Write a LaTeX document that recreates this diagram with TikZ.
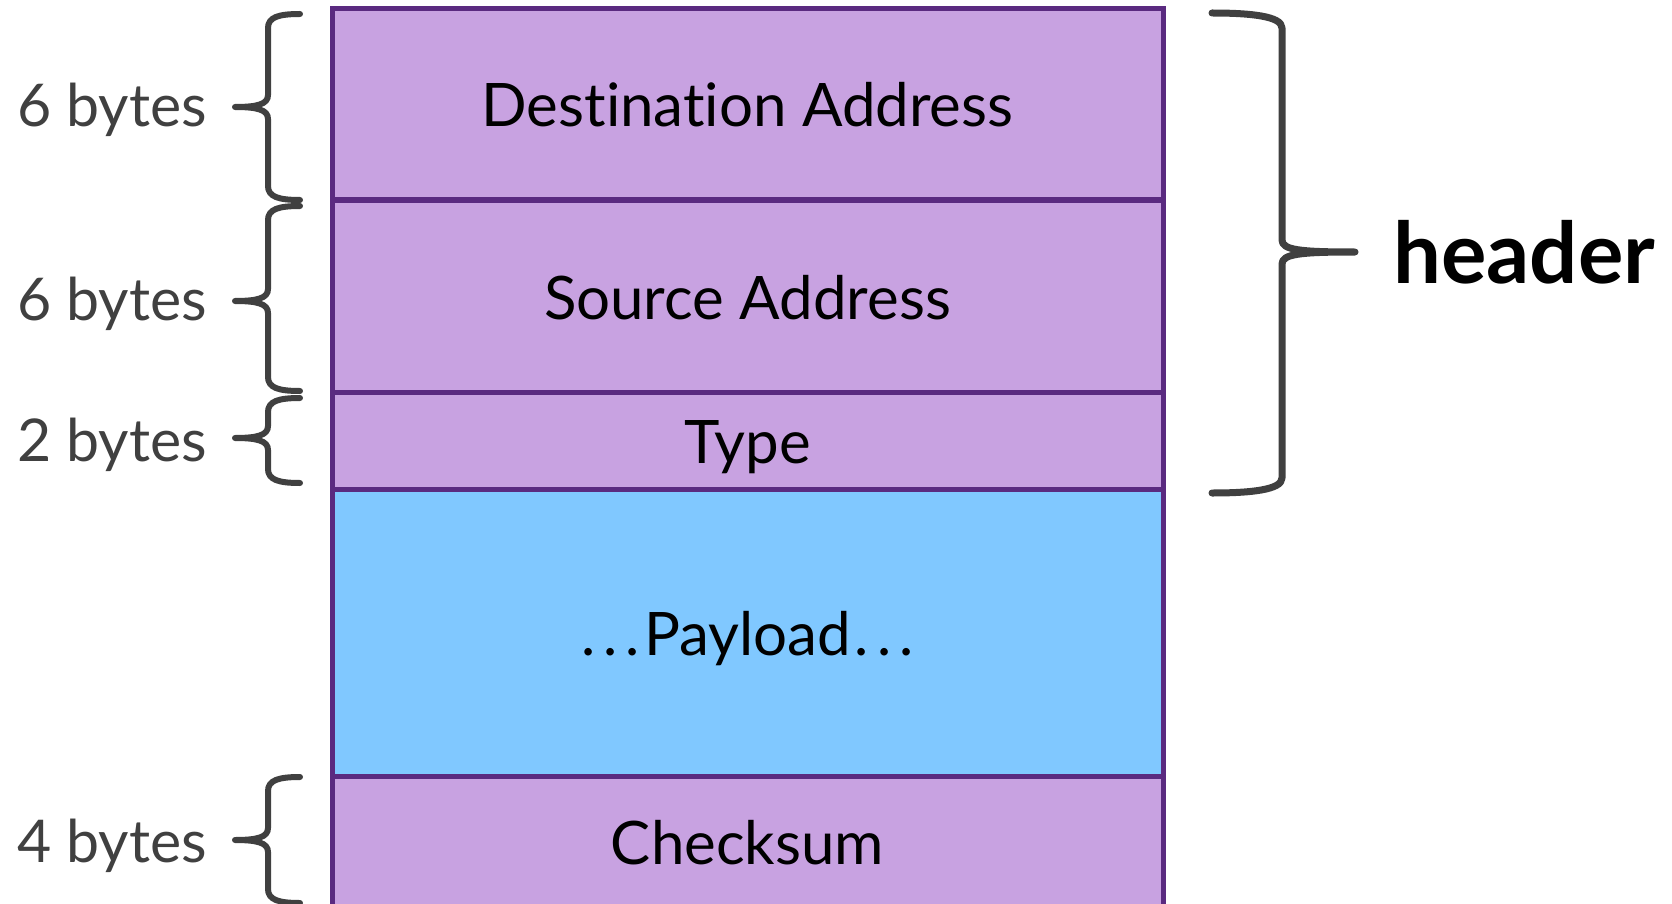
\documentclass[tikz,border=0pt]{standalone}
\usepackage{fontspec}
\setmainfont{Lato}[Ligatures={NoCommon}]
\definecolor{hdrfill}{HTML}{C8A2E1}
\definecolor{payfill}{HTML}{80C8FF}
\definecolor{edge}{HTML}{5A2A80}
\definecolor{ink}{HTML}{404040}
\tikzset{
  field/.style={draw=edge, line width=5pt, fill=hdrfill, rectangle, outer sep=0pt,
    inner sep=0pt, minimum width=831pt, anchor=north west},
  fieldtext/.style={anchor=base, font=\fontsize{60}{70}\selectfont, text=black, inner sep=0pt},
  sizetext/.style={anchor=base west, font=\fontsize{59}{70}\selectfont, text=ink, inner sep=0pt},
  bracepath/.style={draw=ink, line width=6pt, line cap=round, line join=round},
}
\newcommand\dotsep{.\kern8pt.\kern8pt.}
% left curly brace: #1 top, #2 bottom, #3 tip height
\newcommand\bracel[3]{%
  \draw[bracepath] (300,#1) .. controls (279,#1) and (268,#1+3) .. (268,#1+14)
    -- (268,#3-12) .. controls (268,#3-3) and (258,#3) .. (235,#3)
    .. controls (258,#3) and (268,#3+3) .. (268,#3+12)
    -- (268,#2-14) .. controls (268,#2-3) and (279,#2) .. (300,#2);}
\begin{document}
\begin{tikzpicture}[x=1pt,y=-1pt]
\useasboundingbox (0,0) rectangle (1672,904);

% frame fields
\node[field, minimum height=191pt] (dst) at (332,9) {};
\node[field, minimum height=192pt] (src) at (332,200) {};
\node[field, minimum height=97pt] (typ) at (332,392) {};
\node[field, minimum height=287pt, fill=payfill] (pay) at (332,489) {};
\node[field, minimum height=131pt] (chk) at (332,776) {};

\node[fieldtext] (dstt) at (747.5,127) {Destination Address};
\node[fieldtext] (srct) at (747.5,319) {Source Address};
\node[fieldtext] (typt) at (747.5,463) {Type};
\node[fieldtext] (payt) at (747.5,655) {\dotsep\kern4pt Payload\kern4pt\dotsep};
\node[fieldtext] (chkt) at (747.5,864) {Checksum};

% field sizes
\node[sizetext] (s1) at (17,127) {6 bytes};
\node[sizetext] (s2) at (17,320) {6 bytes};
\node[sizetext] (s3) at (17,461) {2 bytes};
\node[sizetext] (s4) at (17,862) {4 bytes};

\bracel{14}{200}{107}
\bracel{206}{391}{301}
\bracel{398}{483}{438}
\bracel{777}{903}{840}

% header brace
\draw[bracepath, line width=7pt] (1212,13) .. controls (1250,13) and (1282,16) .. (1282,28)
  -- (1282,240) .. controls (1282,250) and (1300,252) .. (1355,252)
  .. controls (1300,252) and (1282,254) .. (1282,264)
  -- (1282,478) .. controls (1282,490) and (1250,493) .. (1212,493);
\node[anchor=base west, font=\fontsize{85}{90}\selectfont\bfseries, inner sep=0pt] (hdr) at (1393,283) {header};
\end{tikzpicture}
\end{document}
